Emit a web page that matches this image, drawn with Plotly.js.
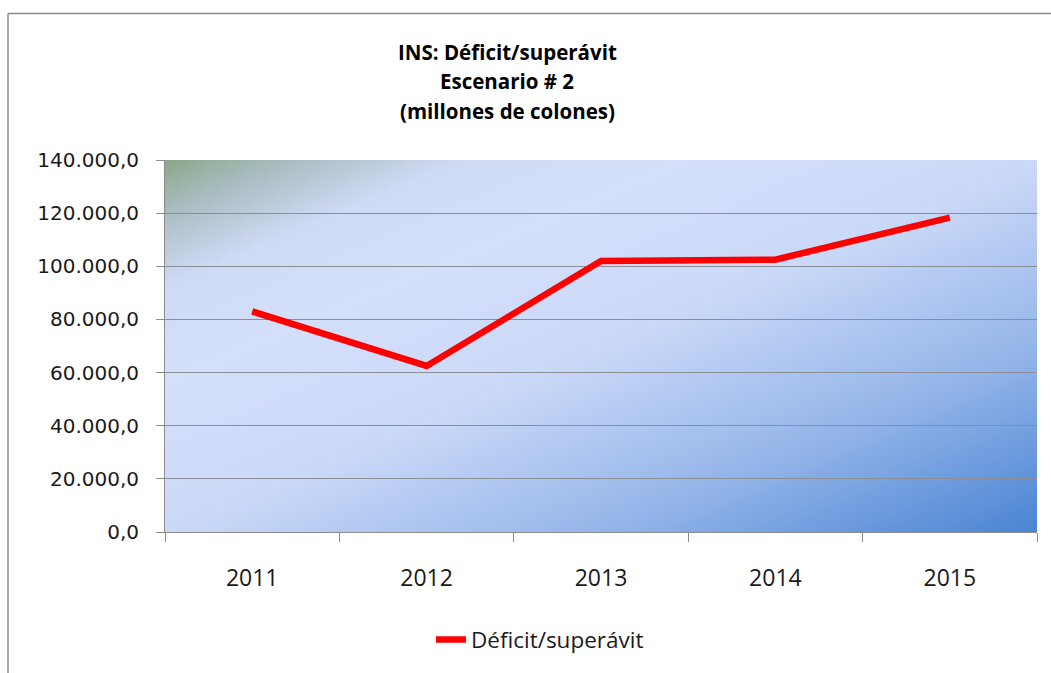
<!DOCTYPE html>
<html>
<head>
<meta charset="utf-8">
<script src="https://cdn.plot.ly/plotly-3.0.1.min.js"></script>
<style>html,body{margin:0;padding:0;background:#fff;overflow:hidden;}#chart{width:1051px;height:673px;}</style>
</head>
<body>
<div id="chart"></div>
<script>
const years = ['2011', '2012', '2013', '2014', '2015'];
const deficitSuperavit = [83000, 62500, 102000, 102500, 118300];
const yTickValues = [0, 20000, 40000, 60000, 80000, 100000, 120000, 140000];
const yTickLabels = ['0,0', '20.000,0', '40.000,0', '60.000,0', '80.000,0', '100.000,0', '120.000,0', '140.000,0'];
const seriesName = 'Déficit/superávit';
const titleLines = ['INS: Déficit/superávit', 'Escenario # 2', '(millones de colones)'];

const svg = '<svg xmlns="http://www.w3.org/2000/svg" width="872" height="376" viewBox="0 0 872 376" preserveAspectRatio="none">' +
  '<defs><linearGradient id="g" x1="0" y1="0" x2="1" y2="1">' +
  '<stop offset="0" stop-color="#8ca787"/>' +
  '<stop offset="0.07" stop-color="#a8bcc0"/>' +
  '<stop offset="0.17" stop-color="#cfdaf5"/>' +
  '<stop offset="0.3" stop-color="#d4dffa"/>' +
  '<stop offset="0.5" stop-color="#cbd9f8"/>' +
  '<stop offset="0.75" stop-color="#94b5e9"/>' +
  '<stop offset="1" stop-color="#4a84d3"/>' +
  '</linearGradient></defs><rect x="0" y="0" width="872" height="376" fill="url(#g)"/></svg>';
const bgSrc = 'data:image/svg+xml;charset=utf-8,' + encodeURIComponent(svg);

const trace = {
  type: 'scatter',
  mode: 'lines',
  x: years,
  y: deficitSuperavit,
  name: seriesName,
  line: {color: '#ff0000', width: 6.5},
  hoverinfo: 'skip'
};

const plotTop = 160, plotBottom = 536, plotLeft = 165, plotW = 872, plotH = 376;
const titleCentersPx = [51, 80, 110];
const titleAnnotations = titleLines.map((t, i) => ({
  text: '<b>' + t + '</b>',
  xref: 'paper', yref: 'paper',
  x: (507 - plotLeft) / plotW,
  y: (plotBottom - titleCentersPx[i]) / plotH,
  xanchor: 'center', yanchor: 'middle',
  showarrow: false,
  font: {family: 'Open Sans, sans-serif', size: 20.5, color: '#000000'}
}));

const frameLeft = (8 - plotLeft) / plotW;
const frameTop = (plotBottom - 12) / plotH;

const layout = {
  width: 1051,
  height: 673,
  margin: {l: 165, r: 14, t: 160, b: 137},
  paper_bgcolor: '#ffffff',
  plot_bgcolor: 'rgba(0,0,0,0)',
  showlegend: true,
  xaxis: {
    type: 'category',
    tickson: 'boundaries',
    ticks: 'outside',
    ticklen: 9,
    tickcolor: '#8c8c8c',
    showline: true,
    linecolor: '#8c8c8c',
    linewidth: 1,
    showgrid: false,
    zeroline: false,
    tickfont: {family: 'Open Sans, sans-serif', size: 23, color: '#1a1a1a'},
    ticklabelstandoff: 25,
    range: [-0.5, 4.5]
  },
  yaxis: {
    range: [0, 140000],
    tickvals: yTickValues,
    ticktext: yTickLabels,
    ticks: 'outside',
    ticklen: 8,
    tickcolor: '#8c8c8c',
    showline: true,
    linecolor: '#8c8c8c',
    linewidth: 1,
    showgrid: true,
    gridcolor: '#8a8e96',
    gridwidth: 1,
    zeroline: false,
    tickfont: {family: 'DejaVu Sans, sans-serif', size: 20, color: '#1a1a1a'},
    ticklabelstandoff: 13
  },
  legend: {
    orientation: 'h',
    x: 0.43, xanchor: 'center',
    y: -0.29, yanchor: 'middle',
    font: {family: 'Open Sans, sans-serif', size: 22.5, color: '#1a1a1a'},
    bgcolor: 'rgba(0,0,0,0)'
  },
  annotations: titleAnnotations,
  images: [{
    source: bgSrc,
    xref: 'paper', yref: 'paper',
    x: 0, y: 1, sizex: 1, sizey: 1,
    xanchor: 'left', yanchor: 'top',
    sizing: 'stretch',
    layer: 'below'
  }],
  shapes: [
    {type: 'line', xref: 'paper', yref: 'paper', x0: frameLeft, x1: frameLeft, y0: -0.5, y1: frameTop,
     line: {color: '#8a8a8a', width: 1.5}, layer: 'below'},
    {type: 'line', xref: 'paper', yref: 'paper', x0: frameLeft, x1: 1.1, y0: frameTop, y1: frameTop,
     line: {color: '#8a8a8a', width: 1.5}, layer: 'below'}
  ]
};

Plotly.newPlot('chart', [trace], layout, {displayModeBar: false, staticPlot: true});
</script>
</body>
</html>
